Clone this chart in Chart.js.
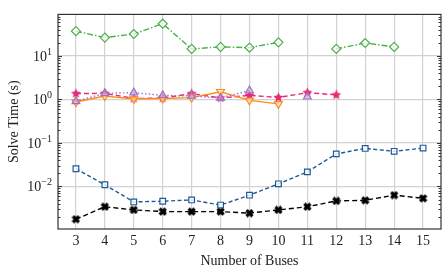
<!DOCTYPE html>
<html>
<head>
<meta charset="utf-8">
<script src="https://cdn.jsdelivr.net/npm/chart.js@4.4.0/dist/chart.umd.min.js"></script>
<style>
    html, body { margin: 0; padding: 0; background: #fff; }
    #wrap { width: 448px; height: 274px; }
</style>
</head>
<body>
<div id="wrap"><canvas id="solveChart" width="448" height="274"></canvas></div>
<script>
// number of buses on the x axis
const buses = [3, 4, 5, 6, 7, 8, 9, 10, 11, 12, 13, 14, 15];

// solve times in seconds, null where a method has no result
const greenTimes  = [37, 26.4, 31.9, 55, 14.5, 16.1, 15.5, 20.5, null, 14.5, 19.8, 16.1, null];
const purpleTimes = [0.9, 1.38, 1.43, 1.24, 1.2, 1.08, 1.6, null, 1.15, null, null, null, null];
const orangeTimes = [0.87, 1.2, 1.02, 1.05, 1.1, 1.5, 0.95, 0.79, null, null, null, null, null];
const pinkTimes   = [1.36, 1.38, 1.05, 1.07, 1.36, 1.08, 1.24, 1.11, 1.43, 1.27, null, null, null];
const blueTimes   = [0.0255, 0.0109, 0.0044, 0.00457, 0.00489, 0.00372, 0.0063, 0.01146, 0.0216, 0.056, 0.0748, 0.0641, 0.076];
const blackTimes  = [0.00176, 0.00341, 0.00288, 0.00264, 0.00264, 0.00264, 0.00243, 0.00288, 0.00341, 0.00464, 0.00479, 0.0063, 0.00532];

// y tick decades and their exponents
const decades = [0.01, 0.1, 1, 10];
const exponents = ['\u22122', '\u22121', '0', '1'];

const FONT = 'Liberation Serif';

function toPoints(values) {
    return buses.map((b, i) => ({ x: b, y: values[i] }));
}

// filled star marker
function starMarker(color, size) {
    const c = document.createElement('canvas');
    c.width = size; c.height = size;
    const g = c.getContext('2d');
    const r = size / 2, ri = r * 0.45;
    g.beginPath();
    for (let i = 0; i < 10; i++) {
        const a = -Math.PI / 2 + i * Math.PI / 5;
        const rr = i % 2 === 0 ? r - 0.3 : ri;
        g.lineTo(r + rr * Math.cos(a), r + rr * Math.sin(a));
    }
    g.closePath();
    g.fillStyle = color;
    g.fill();
    return c;
}

// filled X marker
function xMarker(color, size) {
    const c = document.createElement('canvas');
    c.width = size; c.height = size;
    const g = c.getContext('2d');
    g.strokeStyle = color;
    g.lineWidth = size * 0.36;
    g.beginPath();
    g.moveTo(1.5, 1.5); g.lineTo(size - 1.5, size - 1.5);
    g.moveTo(size - 1.5, 1.5); g.lineTo(1.5, size - 1.5);
    g.stroke();
    return c;
}

const frameAndTicks = {
    id: 'frameAndTicks',
    afterDatasetsDraw(chart) {
        const ctx = chart.ctx;
        const a = chart.chartArea;
        const y = chart.scales.y;
        ctx.save();
        ctx.strokeStyle = '#333';
        ctx.lineWidth = 1;
        for (let e = -3; e <= 1; e++) {
            for (let m = 1; m <= 9; m++) {
                const v = m * Math.pow(10, e);
                if (v < y.min || v > y.max) continue;
                const py = Math.round(y.getPixelForValue(v)) + 0.5;
                const len = m === 1 ? 4 : 2.5;
                ctx.beginPath();
                ctx.moveTo(a.left, py); ctx.lineTo(a.left + len, py);
                ctx.moveTo(a.right, py); ctx.lineTo(a.right - len, py);
                ctx.stroke();
            }
        }
        ctx.lineWidth = 1.2;
        ctx.strokeRect(a.left, a.top, a.right - a.left, a.bottom - a.top);

        // power-of-ten labels with raised exponents
        ctx.fillStyle = '#222';
        ctx.textBaseline = 'alphabetic';
        decades.forEach((v, i) => {
            const py = y.getPixelForValue(v);
            ctx.font = '10px ' + FONT;
            ctx.textAlign = 'right';
            const exp = exponents[i];
            const ew = ctx.measureText(exp).width;
            const right = a.left - 6;
            ctx.fillText(exp, right, py - 1);
            ctx.font = '14px ' + FONT;
            ctx.fillText('10', right - ew, py + 5);
        });
        ctx.restore();
    }
};

const ctx = document.getElementById('solveChart').getContext('2d');
new Chart(ctx, {
    type: 'line',
    data: {
        datasets: [
            {
                data: toPoints(greenTimes),
                borderColor: '#4daf4a',
                backgroundColor: 'rgba(255,255,255,0.7)',
                borderWidth: 1.4,
                borderDash: [6, 2, 1.5, 2],
                pointStyle: 'rectRot',
                pointRadius: 4.5,
                pointBorderWidth: 1.2
            },
            {
                data: toPoints(purpleTimes),
                borderColor: '#a070c0',
                backgroundColor: 'rgba(200,170,225,0.6)',
                borderWidth: 1.4,
                borderDash: [1.5, 2.2],
                pointStyle: 'triangle',
                pointRadius: 4.5,
                pointBorderWidth: 1.2
            },
            {
                data: toPoints(orangeTimes),
                borderColor: '#ff8c1a',
                backgroundColor: 'rgba(255,230,200,0.7)',
                borderWidth: 1.4,
                pointStyle: 'triangle',
                rotation: 180,
                pointRadius: 4.5,
                pointBorderWidth: 1.2
            },
            {
                data: toPoints(pinkTimes),
                borderColor: '#e7297a',
                backgroundColor: '#e7297a',
                borderWidth: 1.4,
                borderDash: [5, 3],
                pointStyle: starMarker('#e7297a', 11),
                pointRadius: 5.5
            },
            {
                data: toPoints(blueTimes),
                borderColor: '#1f5a96',
                backgroundColor: 'rgba(255,255,255,0.8)',
                borderWidth: 1.4,
                borderDash: [4, 2.5],
                pointStyle: 'rect',
                pointRadius: 4,
                pointBorderWidth: 1.2
            },
            {
                data: toPoints(blackTimes),
                borderColor: '#000',
                backgroundColor: '#000',
                borderWidth: 1.4,
                borderDash: [5, 3],
                pointStyle: xMarker('#000', 9),
                pointRadius: 4.5
            }
        ]
    },
    options: {
        responsive: false,
        animation: false,
        spanGaps: false,
        layout: { padding: { left: 6, right: 7, top: 7, bottom: 0 } },
        plugins: {
            legend: { display: false },
            tooltip: { enabled: false }
        },
        scales: {
            x: {
                type: 'linear',
                min: 2.38,
                max: 15.62,
                afterBuildTicks: scale => { scale.ticks = buses.map(v => ({ value: v })); },
                afterFit: scale => { scale.height = 45; },
                grid: { color: '#d2d2d2', lineWidth: 1.2, drawTicks: false },
                border: { display: false },
                ticks: {
                    color: '#222',
                    padding: 4,
                    maxRotation: 0,
                    font: { family: FONT, size: 14 }
                },
                title: {
                    display: true,
                    text: 'Number of Buses',
                    color: '#222',
                    padding: { top: 0, bottom: 4 },
                    font: { family: FONT, size: 14 }
                }
            },
            y: {
                type: 'logarithmic',
                min: 0.00105,
                max: 90,
                afterBuildTicks: scale => {
                    scale.ticks = decades.map(v => ({ value: v }));
                },
                afterFit: scale => { scale.width = 52; },
                grid: { color: '#d2d2d2', lineWidth: 1.2, drawTicks: false },
                border: { display: false },
                ticks: {
                    display: true,
                    color: 'rgba(0,0,0,0)',
                    padding: 6,
                    font: { family: FONT, size: 14 },
                    callback: () => ''
                },
                title: {
                    display: true,
                    text: 'Solve Time (s)',
                    color: '#222',
                    padding: { top: 0, bottom: 0 },
                    font: { family: FONT, size: 14 }
                }
            }
        }
    },
    plugins: [frameAndTicks]
});
</script>
</body>
</html>
